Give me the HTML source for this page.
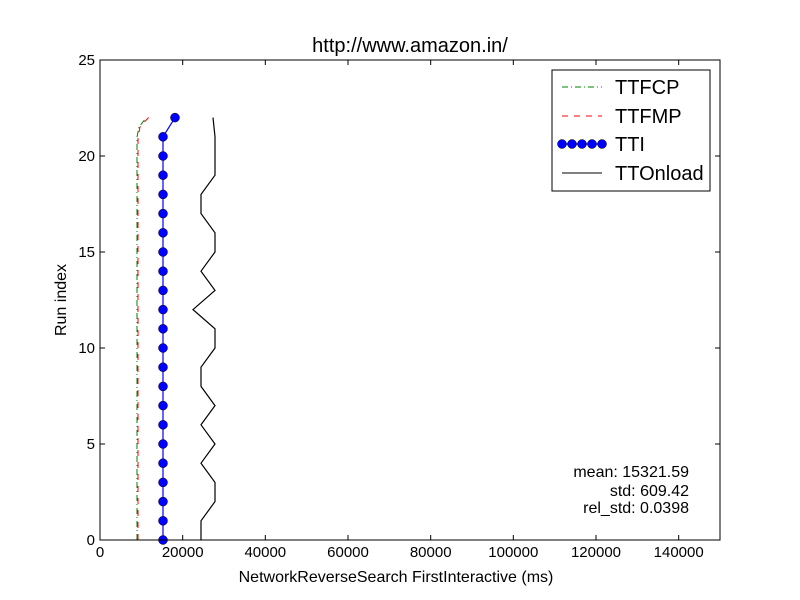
<!DOCTYPE html>
<html><head><style>body{margin:0;background:#fff}svg{display:block}text{font-family:"Liberation Sans",sans-serif}</style></head><body>
<svg width="800" height="600" xmlns="http://www.w3.org/2000/svg">
<rect width="800" height="600" fill="#fff"/>
<text x="410" y="52" font-size="20" text-anchor="middle">http://www.amazon.in/</text>
<g stroke="#000" stroke-width="1">
<line x1="100" y1="540" x2="100" y2="535"/><line x1="182.7" y1="540" x2="182.7" y2="535"/><line x1="265.3" y1="540" x2="265.3" y2="535"/><line x1="348" y1="540" x2="348" y2="535"/><line x1="430.7" y1="540" x2="430.7" y2="535"/><line x1="513.3" y1="540" x2="513.3" y2="535"/><line x1="596" y1="540" x2="596" y2="535"/><line x1="678.7" y1="540" x2="678.7" y2="535"/>
<line x1="182.7" y1="60" x2="182.7" y2="65"/><line x1="265.3" y1="60" x2="265.3" y2="65"/><line x1="348" y1="60" x2="348" y2="65"/><line x1="430.7" y1="60" x2="430.7" y2="65"/><line x1="513.3" y1="60" x2="513.3" y2="65"/><line x1="596" y1="60" x2="596" y2="65"/><line x1="678.7" y1="60" x2="678.7" y2="65"/>
<line x1="100" y1="444" x2="105" y2="444"/><line x1="100" y1="348" x2="105" y2="348"/><line x1="100" y1="252" x2="105" y2="252"/><line x1="100" y1="156" x2="105" y2="156"/>
<line x1="720" y1="444" x2="715" y2="444"/><line x1="720" y1="348" x2="715" y2="348"/><line x1="720" y1="252" x2="715" y2="252"/><line x1="720" y1="156" x2="715" y2="156"/>
</g>
<g font-size="15" text-anchor="middle">
<text x="100" y="557">0</text><text x="182.7" y="557">20000</text><text x="265.3" y="557">40000</text><text x="348" y="557">60000</text><text x="430.7" y="557">80000</text><text x="513.3" y="557">100000</text><text x="596" y="557">120000</text><text x="678.7" y="557">140000</text>
</g>
<g font-size="15" text-anchor="end">
<text x="95" y="545">0</text><text x="95" y="449">5</text><text x="95" y="353">10</text><text x="95" y="257">15</text><text x="95" y="161">20</text><text x="95" y="65">25</text>
</g>
<text x="396" y="582" font-size="16" text-anchor="middle">NetworkReverseSearch FirstInteractive (ms)</text>
<text x="66" y="300" font-size="16" text-anchor="middle" transform="rotate(-90 66 300)">Run index</text>
<polyline fill="none" stroke="#008000" stroke-width="1" stroke-dasharray="6,3,1,3" points="137,540 137,137 139,127 146,118"/>
<polyline fill="none" stroke="#ff0000" stroke-width="1" stroke-dasharray="6,6" points="138,540 138,137 140,127 149,117"/>
<polyline fill="none" stroke="#000" stroke-width="1.2" points="201,540 201,520.8 215,501.6 215,482.4 201,463.2 215,444 201,424.8 215,405.6 201,386.4 201,367.2 215,348 215,328.8 193,309.6 215,290.4 201,271.2 215,252 215,232.8 201,213.6 201,194.4 215,175.2 215,156 215,136.8 213,117.6"/>
<g fill="#0000ff" stroke="#000" stroke-width="0.5">
<polyline fill="none" stroke="#0000ff" stroke-width="1.2" points="163,540 163,136.8 175,117.6"/>
<circle cx="163" cy="540" r="4.5"/><circle cx="163" cy="520.8" r="4.5"/><circle cx="163" cy="501.6" r="4.5"/><circle cx="163" cy="482.4" r="4.5"/><circle cx="163" cy="463.2" r="4.5"/><circle cx="163" cy="444" r="4.5"/><circle cx="163" cy="424.8" r="4.5"/><circle cx="163" cy="405.6" r="4.5"/><circle cx="163" cy="386.4" r="4.5"/><circle cx="163" cy="367.2" r="4.5"/><circle cx="163" cy="348" r="4.5"/><circle cx="163" cy="328.8" r="4.5"/><circle cx="163" cy="309.6" r="4.5"/><circle cx="163" cy="290.4" r="4.5"/><circle cx="163" cy="271.2" r="4.5"/><circle cx="163" cy="252" r="4.5"/><circle cx="163" cy="232.8" r="4.5"/><circle cx="163" cy="213.6" r="4.5"/><circle cx="163" cy="194.4" r="4.5"/><circle cx="163" cy="175.2" r="4.5"/><circle cx="163" cy="156" r="4.5"/><circle cx="163" cy="136.8" r="4.5"/><circle cx="175" cy="117.6" r="4.5"/>
</g>
<rect x="100" y="60" width="620" height="480" fill="none" stroke="#000" stroke-width="1"/>
<rect x="552" y="70" width="158" height="121" fill="#fff" stroke="#000" stroke-width="1"/>
<line x1="562" y1="87" x2="602" y2="87" stroke="#008000" stroke-dasharray="6,3,1,3"/>
<line x1="562" y1="116" x2="602" y2="116" stroke="#ff0000" stroke-dasharray="6,6"/>
<line x1="562" y1="144" x2="602" y2="144" stroke="#0000ff" stroke-width="1.2"/>
<g fill="#0000ff" stroke="#000" stroke-width="0.5"><circle cx="562" cy="144" r="4.5"/><circle cx="572" cy="144" r="4.5"/><circle cx="582" cy="144" r="4.5"/><circle cx="592" cy="144" r="4.5"/><circle cx="602" cy="144" r="4.5"/></g>
<line x1="562" y1="173" x2="602" y2="173" stroke="#000"/>
<g font-size="20"><text x="615" y="94">TTFCP</text><text x="615" y="123">TTFMP</text><text x="615" y="151">TTI</text><text x="615" y="180">TTOnload</text></g>
<g font-size="16" text-anchor="end"><text x="689" y="477">mean: 15321.59</text><text x="689" y="496">std: 609.42</text><text x="689" y="513">rel_std: 0.0398</text></g>
</svg>
</body></html>
